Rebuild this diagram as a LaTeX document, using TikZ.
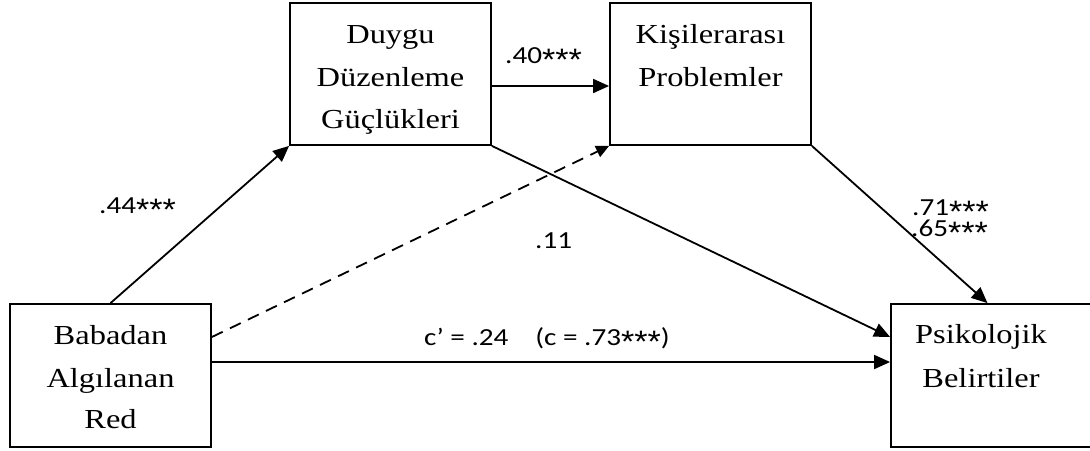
\documentclass[tikz,border=0pt]{standalone}
\usepackage{fontspec}
\setmainfont{Liberation Serif}[FakeStretch=1.18]
\newfontfamily\lblfont{Carlito}[FakeStretch=1.19]
\newfontfamily\starfont{Liberation Sans}[FakeStretch=1.1]
\usetikzlibrary{arrows.meta,calc}
\newcommand\mystars{\raisebox{-7pt}{\starfont\fontsize{31}{31}\selectfont***}}
\begin{document}
\begin{tikzpicture}[x=1pt,y=1pt,
  box/.style={draw,line width=1.8pt,minimum width=201pt,minimum height=142pt,inner sep=0pt},
  boxtxt/.style={anchor=base,inner sep=0pt,font=\fontsize{27.5}{32}\selectfont},
  lbl/.style={anchor=base west,inner sep=0pt,font=\lblfont\fontsize{24.5}{28}\selectfont},
  arr/.style={line width=1.8pt,-{Triangle[length=16pt,width=14pt]}},
  darr/.style={line width=1.8pt,dash pattern=on 12pt off 8pt,-{Triangle[length=13pt,width=12pt]}}]
\useasboundingbox (0,0) rectangle (1090,-450);
\begin{scope}
\clip (0,0) rectangle (1090,-450);
\node[box] (duy) at (390.5,-74) {};
\node[box] (kis) at (710.5,-74) {};
\node[box,minimum height=143pt] (bab) at (110.5,-375.5) {};
\node[box,minimum height=143pt] (psi) at (991.5,-375.5) {};
\end{scope}
% box texts
\node[boxtxt] (d1) at (390.5,-43) {Duygu};
\node[boxtxt] (d2) at (390.5,-86) {Düzenleme};
\node[boxtxt] (d3) at (390.5,-128) {Güçlükleri};
\node[boxtxt] (k1) at (710.5,-43) {Kişilerarası};
\node[boxtxt] (k2) at (710.5,-86) {Problemler};
\node[boxtxt] (b1) at (110.5,-344) {Babadan};
\node[boxtxt] (b2) at (110.5,-387) {Algılanan};
\node[boxtxt] (b3) at (110.5,-428) {Red};
\node[boxtxt] (p1) at (981,-343) {Psikolojik};
\node[boxtxt] (p2) at (981,-387) {Belirtiler};
% connector ends
\coordinate (babUp) at ($(bab.east)+(0,38.5)$);
\coordinate (babLo) at ($(bab.east)+(0,13.5)$);
\coordinate (psiUp) at ($(psi.west)+(0,38.5)$);
\coordinate (psiLo) at ($(psi.west)+(0,13.5)$);
\coordinate (duyR) at ($(duy.east)+(0,-12)$);
\coordinate (kisL) at ($(kis.west)+(0,-12)$);
\coordinate (psiTop) at ($(psi.north)+(-4,0)$);
% connectors
\draw[arr] (bab.north) -- (duy.south west);
\draw[darr] (babUp) -- (kis.south west);
\draw[arr] (duyR) -- (kisL);
\draw[arr] (duy.south east) -- (psiUp);
\draw[arr] (kis.south east) -- (psiTop);
\draw[arr] (babLo) -- (psiLo);
% labels
\node[lbl] (l40) at (505,-63) {.40\mystars};
\node[lbl] (l44) at (99,-213) {.44\mystars};
\node[lbl] (l11) at (535,-248) {.11};
\node[lbl] (l71) at (912,-215) {.71\mystars};
\node[lbl] (l65) at (911,-236) {.65\mystars};
\node[lbl] (lc) at (424,-345) {c’ = .24\hspace{1.1em}(c = .73\mystars)};
\end{tikzpicture}
\end{document}
